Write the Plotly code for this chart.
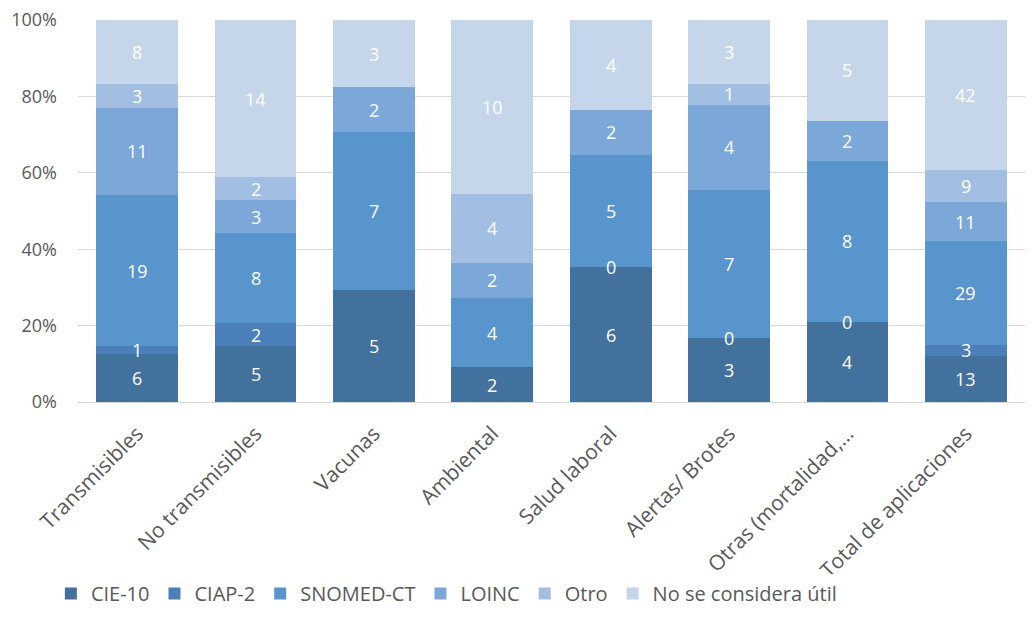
import plotly.graph_objects as go

categories = ["Transmisibles", "No transmisibles", "Vacunas", "Ambiental",
              "Salud laboral", "Alertas/ Brotes", "Otras (mortalidad,…",
              "Total de aplicaciones"]

series_names = ["CIE-10", "CIAP-2", "SNOMED-CT", "LOINC", "Otro", "No se considera útil"]

cie10 = [6, 5, 5, 2, 6, 3, 4, 13]
ciap2 = [1, 2, None, None, 0, 0, 0, 3]
snomed = [19, 8, 7, 4, 5, 7, 8, 29]
loinc = [11, 3, 2, 2, 2, 4, 2, 11]
otro = [3, 2, None, 4, None, 1, None, 9]
no_util = [8, 14, 3, 10, 4, 3, 5, 42]

colors = ["#43719E", "#4A7FB9", "#5795CC", "#7BA8D9", "#A2BFE3", "#C5D5EA"]

all_series = [cie10, ciap2, snomed, loinc, otro, no_util]

FONT = "Open Sans"

fig = go.Figure()
for name, vals, col in zip(series_names, all_series, colors):
    fig.add_trace(go.Bar(
        x=categories, y=vals, name=name, marker_color=col,
        marker_line_width=0, hoverinfo="x+y+name",
    ))

# value labels centred in each segment (zero values sit on the boundary)
totals = [sum(s[i] or 0 for s in all_series) for i in range(len(categories))]
annotations = []
for si, vals in enumerate(all_series):
    for i, v in enumerate(vals):
        if v is None:
            continue
        cum = sum((all_series[k][i] or 0) for k in range(si))
        annotations.append(dict(
            x=categories[i], y=100.0 * (cum + v / 2.0) / totals[i], xref="x", yref="y",
            text=str(v), showarrow=False,
            font=dict(color="white", size=18, family=FONT)))

fig.update_layout(
    barmode="stack", barnorm="percent", bargap=0.31,
    width=1017, height=605,
    margin=dict(l=70, r=0, t=12, b=210),
    plot_bgcolor="white", paper_bgcolor="white",
    font=dict(family=FONT, color="#595959"),
    annotations=annotations,
    legend=dict(orientation="h", x=0.389, xanchor="center", y=-0.5, yanchor="middle",
                font=dict(size=20, color="#595959"), traceorder="normal",
                itemwidth=30, tracegroupgap=0),
    showlegend=True,
)
fig.update_yaxes(range=[0, 100.001], tickvals=[0, 20, 40, 60, 80, 100],
                 ticktext=["0%", "20%", "40%", "60%", "80%", "100%"],
                 gridcolor="#D9D9D9", gridwidth=1, zeroline=False,
                 tickfont=dict(size=18, color="#595959"),
                 showline=False, ticks="", ticklabelstandoff=20,
                 ticklabeloverflow="allow")
fig.update_xaxes(tickangle=-45, tickfont=dict(size=21, color="#595959"),
                 showline=True, linecolor="#D9D9D9", linewidth=1, ticks="",
                 ticklabelstandoff=10, ticklabeloverflow="allow")

fig.write_html("out.html")
